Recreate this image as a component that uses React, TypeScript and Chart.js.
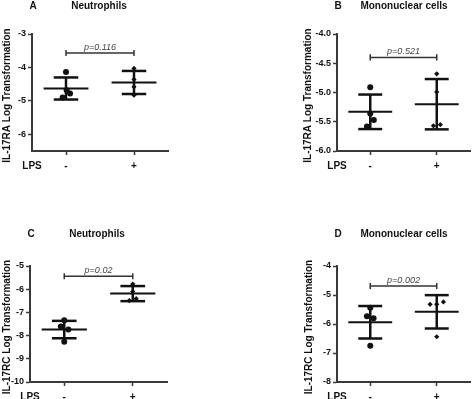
import React, { useEffect, useRef } from "react";
import { Chart, registerables } from "chart.js";

Chart.register(...registerables);

const FONT = "'Liberation Sans', Arial, Helvetica, sans-serif";

// ---- shared labels ----
const groupLabels = ["-", "+"];
const groupLabelTitle = "LPS";

// ---- Panel A: IL-17RA, Neutrophils ----
const aMinus = [-4.14, -4.68, -4.78, -4.9];
const aMinusJitter = [0, 0.01, 0.06, -0.05];
const aPlus = [-4.03, -4.36, -4.58, -4.83];
const aPlusJitter = [0, 0, 0, 0];
const aMean = [-4.63, -4.45];
const aSd = [0.33, 0.345];
const aBracket = -3.57;
const aP = "p=0.116";
const aYTicks = [-6, -5, -4, -3];

// ---- Panel B: IL-17RA, Mononuclear cells ----
const bMinus = [-4.91, -5.36, -5.47, -5.58];
const bMinusJitter = [0, 0, 0.054, -0.05];
const bPlus = [-4.68, -4.99, -5.57, -5.55];
const bPlusJitter = [0, 0, -0.05, 0.054];
const bMean = [-5.33, -5.2];
const bSd = [0.295, 0.43];
const bBracket = -4.4;
const bP = "p=0.521";
const bYTicks = [-6.0, -5.5, -5.0, -4.5, -4.0];

// ---- Panel C: IL-17RC, Neutrophils ----
const cMinus = [-7.34, -7.61, -7.74, -8.26];
const cMinusJitter = [0, -0.05, 0.06, 0];
const cPlus = [-5.78, -6.1, -6.49, -6.41];
const cPlusJitter = [0, 0, -0.05, 0.05];
const cMean = [-7.74, -6.19];
const cSd = [0.375, 0.325];
const cBracket = -5.44;
const cP = "p=0.02";
const cYTicks = [-10, -9, -8, -7, -6, -5];

// ---- Panel D: IL-17RC, Mononuclear cells ----
const dMinus = [-5.44, -5.73, -5.8, -6.75];
const dMinusJitter = [0, -0.05, 0.05, 0];
const dPlus = [-5.32, -5.32, -5.24, -6.44];
const dPlusJitter = [-0.1, 0, 0.1, 0];
const dMean = [-5.94, -5.58];
const dSd = [0.56, 0.575];
const dBracket = -4.69;
const dP = "p=0.002";
const dYTicks = [-8, -7, -6, -5, -4];

const PANELS = [
  {
    letter: "A", title: "Neutrophils", yTitle: "IL-17RA Log Transformation",
    minus: aMinus, minusJ: aMinusJitter, plus: aPlus, plusJ: aPlusJitter,
    mean: aMean, sd: aSd, bracket: aBracket, pText: aP,
    yTicks: aYTicks, yMin: -6.5, yMax: -3, decimals: 0,
    box: { left: 0, top: 0, w: 237, h: 199 },
    area: { left: 32, top: 34, right: 168, bottom: 151 },
    yTitleGap: 25, titleGap: 28,
  },
  {
    letter: "B", title: "Mononuclear cells", yTitle: "IL-17RA Log Transformation",
    minus: bMinus, minusJ: bMinusJitter, plus: bPlus, plusJ: bPlusJitter,
    mean: bMean, sd: bSd, bracket: bBracket, pText: bP,
    yTicks: bYTicks, yMin: -6, yMax: -4, decimals: 1,
    box: { left: 237, top: 0, w: 237, h: 199 },
    area: { left: 100, top: 34, right: 237, bottom: 151 },
    yTitleGap: 29, titleGap: 28,
  },
  {
    letter: "C", title: "Neutrophils", yTitle: "IL-17RC Log Transformation",
    minus: cMinus, minusJ: cMinusJitter, plus: cPlus, plusJ: cPlusJitter,
    mean: cMean, sd: cSd, bracket: cBracket, pText: cP,
    yTicks: cYTicks, yMin: -10, yMax: -5, decimals: 0,
    box: { left: 0, top: 199, w: 237, h: 200 },
    area: { left: 30, top: 67, right: 167, bottom: 183 },
    yTitleGap: 23, titleGap: 32,
  },
  {
    letter: "D", title: "Mononuclear cells", yTitle: "IL-17RC Log Transformation",
    minus: dMinus, minusJ: dMinusJitter, plus: dPlus, plusJ: dPlusJitter,
    mean: dMean, sd: dSd, bracket: dBracket, pText: dP,
    yTicks: dYTicks, yMin: -8, yMax: -4, decimals: 0,
    box: { left: 237, top: 199, w: 237, h: 200 },
    area: { left: 100, top: 67, right: 237, bottom: 183 },
    yTitleGap: 28, titleGap: 32,
  },
];

const INK = "#111111";
const AXIS = "#3a3a3a";

function seg(x1: number, y1: number, x2: number, y2: number, width: number, color = INK) {
  return {
    type: "scatter" as const,
    data: [{ x: x1, y: y1 }, { x: x2, y: y2 }],
    showLine: true,
    borderColor: color,
    borderWidth: width,
    pointRadius: 0,
    pointHoverRadius: 0,
    borderCapStyle: "butt" as const,
  };
}

const annotPlugin = {
  id: "annot",
  afterDraw(chart: any, _args: any, opts: any) {
    const p = opts.panel;
    const { ctx, chartArea } = chart;
    const x = chart.scales.x;
    const y = chart.scales.y;
    ctx.save();
    ctx.fillStyle = INK;
    ctx.textAlign = "center";
    ctx.textBaseline = "middle";
    ctx.font = `bold 10px ${FONT}`;
    ctx.fillText(p.letter, chartArea.left + 1, chartArea.top - p.titleGap);
    ctx.fillText(p.title, chartArea.left + 67, chartArea.top - p.titleGap);
    ctx.fillText(groupLabelTitle, chartArea.left, chartArea.bottom + 15);
    // p value
    ctx.font = `italic 9px ${FONT}`;
    ctx.fillStyle = "#444444";
    ctx.textBaseline = "bottom";
    ctx.fillText(p.pText, x.getPixelForValue(1.5), y.getPixelForValue(p.bracket) - 1.5);
    // y title
    ctx.fillStyle = INK;
    ctx.font = `bold 10px ${FONT}`;
    ctx.textBaseline = "middle";
    ctx.translate(chartArea.left - p.yTitleGap, (chartArea.top + chartArea.bottom) / 2 + 3);
    ctx.rotate(-Math.PI / 2);
    ctx.fillText(p.yTitle, 0, 0);
    ctx.restore();
  },
};

function Panel({ p }: { p: any }) {
  const ref = useRef<HTMLCanvasElement | null>(null);
  useEffect(() => {
    if (!ref.current) return;
    const meanHalf = 0.33;
    const capHalf = 0.18;
    const tickHalf = (p.yMax - p.yMin) * 0.026;
    const datasets: any[] = [
      {
        type: "scatter",
        data: p.minus.map((v: number, i: number) => ({ x: 1 + p.minusJ[i], y: v })),
        pointStyle: "circle",
        pointRadius: 3,
        backgroundColor: INK,
        borderColor: INK,
        borderWidth: 0,
      },
      {
        type: "scatter",
        data: p.plus.map((v: number, i: number) => ({ x: 2 + p.plusJ[i], y: v })),
        pointStyle: "rectRot",
        pointRadius: 2.6,
        backgroundColor: INK,
        borderColor: INK,
        borderWidth: 0,
      },
    ];
    [1, 2].forEach((g, gi) => {
      const m = p.mean[gi];
      const s = p.sd[gi];
      datasets.push(seg(g - meanHalf, m, g + meanHalf, m, 2));
      datasets.push(seg(g, m - s, g, m + s, 2.5));
      datasets.push(seg(g - capHalf, m + s, g + capHalf, m + s, 2.5));
      datasets.push(seg(g - capHalf, m - s, g + capHalf, m - s, 2.5));
    });
    datasets.push(seg(1, p.bracket, 2, p.bracket, 1.5, "#333333"));
    datasets.push(seg(1, p.bracket - tickHalf, 1, p.bracket + tickHalf, 1.5, "#333333"));
    datasets.push(seg(2, p.bracket - tickHalf, 2, p.bracket + tickHalf, 1.5, "#333333"));

    const yTickW = p.area.left;
    const xScaleH = 20;
    const chart = new Chart(ref.current, {
      type: "scatter",
      data: { datasets },
      plugins: [annotPlugin as any],
      options: {
        responsive: false,
        animation: false,
        devicePixelRatio: 1,
        events: [],
        layout: {
          padding: {
            left: 0,
            top: p.area.top,
            right: p.box.w - p.area.right,
            bottom: p.box.h - p.area.bottom - xScaleH,
          },
        },
        plugins: {
          legend: { display: false },
          tooltip: { enabled: false },
          title: { display: false },
          annot: { panel: p },
        } as any,
        scales: {
          x: {
            type: "linear",
            min: 0.5,
            max: 2.5,
            afterBuildTicks: (s: any) => {
              s.ticks = [{ value: 1 }, { value: 2 }];
            },
            afterFit: (s: any) => {
              s.height = xScaleH;
            },
            ticks: {
              callback: (v: any) => groupLabels[Math.round(Number(v)) - 1],
              color: INK,
              font: { family: FONT, size: 10, weight: "bold" },
              padding: 5,
              maxRotation: 0,
              autoSkip: false,
            },
            grid: {
              drawOnChartArea: false,
              drawTicks: true,
              tickLength: 4,
              tickColor: AXIS,
              tickWidth: 1.5,
            },
            border: { display: true, color: AXIS, width: 2 },
          },
          y: {
            type: "linear",
            min: p.yMin,
            max: p.yMax,
            afterBuildTicks: (s: any) => {
              s.ticks = p.yTicks.map((v: number) => ({ value: v }));
            },
            afterFit: (s: any) => {
              s.width = yTickW;
            },
            ticks: {
              callback: (v: any) => Number(v).toFixed(p.decimals),
              color: INK,
              font: { family: FONT, size: 9, weight: "bold" },
              padding: 2,
              autoSkip: false,
            },
            grid: {
              drawOnChartArea: false,
              drawTicks: true,
              tickLength: 4,
              tickColor: AXIS,
              tickWidth: 1.5,
            },
            border: { display: true, color: AXIS, width: 2 },
          },
        },
      } as any,
    });
    return () => chart.destroy();
  }, [p]);
  return (
    <div style={{ position: "absolute", left: p.box.left, top: p.box.top, width: p.box.w, height: p.box.h }}>
      <canvas ref={ref} width={p.box.w} height={p.box.h} style={{ width: p.box.w, height: p.box.h, display: "block" }} />
    </div>
  );
}

export default function App() {
  return (
    <div style={{ position: "absolute", left: 0, top: 0, width: 474, height: 399, background: "#ffffff", overflow: "hidden" }}>
      {PANELS.map((p) => (
        <Panel key={p.letter} p={p} />
      ))}
    </div>
  );
}
